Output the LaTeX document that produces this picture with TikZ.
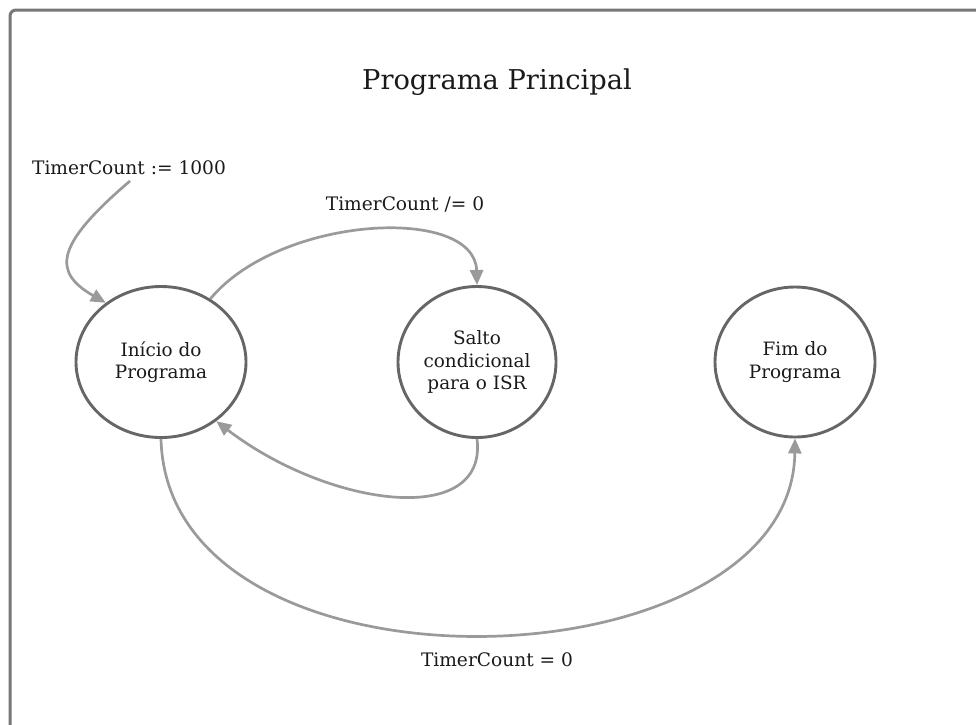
\documentclass[tikz,border=0pt]{standalone}
\usepackage{fontspec}
\setmainfont{DejaVu Serif}
\usetikzlibrary{arrows.meta,shapes.geometric}
\definecolor{statecol}{HTML}{666666}
\definecolor{edgecol}{HTML}{9A9A9A}
\definecolor{framecol}{HTML}{777777}
\definecolor{textcol}{HTML}{1A1A1A}
\begin{document}
\begin{tikzpicture}[x=1pt,y=-1pt,
  state/.style={ellipse, draw=statecol, line width=2.9pt, fill=white,
    align=center, text=textcol, font=\fontsize{18.4}{22.5}\selectfont, inner sep=0pt},
  trans/.style={draw=edgecol, line width=2.7pt,
    -{Triangle[length=15pt,width=13pt]}, edgecol},
  lbl/.style={text=textcol, font=\fontsize{18.6}{22}\selectfont, inner sep=0pt}]
\useasboundingbox (0,0) rectangle (976,724);
% outer frame
\draw[framecol, line width=3pt, rounded corners=6pt] (10,10) rectangle (1000,760);
% title
\node[lbl, font=\fontsize{27.3}{32}\selectfont] (title) at (497,82) {Programa Principal};
% states
\node[state, minimum width=170pt, minimum height=151pt] (inicio) at (161,362) {Início do\\Programa};
\node[state, minimum width=158pt, minimum height=151pt] (salto) at (477,362) {Salto\\condicional\\para o ISR};
\node[state, minimum width=160pt, minimum height=150pt] (fim) at (795,362) {Fim do\\Programa};
% transition labels
\node[lbl] (init) at (129,168) {TimerCount := 1000};
\node[lbl] (neq) at (405,204) {TimerCount /= 0};
\node[lbl] (eq) at (497,660) {TimerCount = 0};
% transitions
\coordinate (initstart) at (130,181);
\draw[trans] (initstart) .. controls (55,245) and (52,272) .. (inicio.133);
\draw[trans] (inicio.52) .. controls (280,215) and (475,205) .. (salto.north);
\draw[trans] (salto.south) .. controls (488,528) and (330,508) .. (inicio.-47);
\draw[trans] (inicio.south) .. controls (168,710) and (792,690) .. (fim.south);
\end{tikzpicture}
\end{document}
